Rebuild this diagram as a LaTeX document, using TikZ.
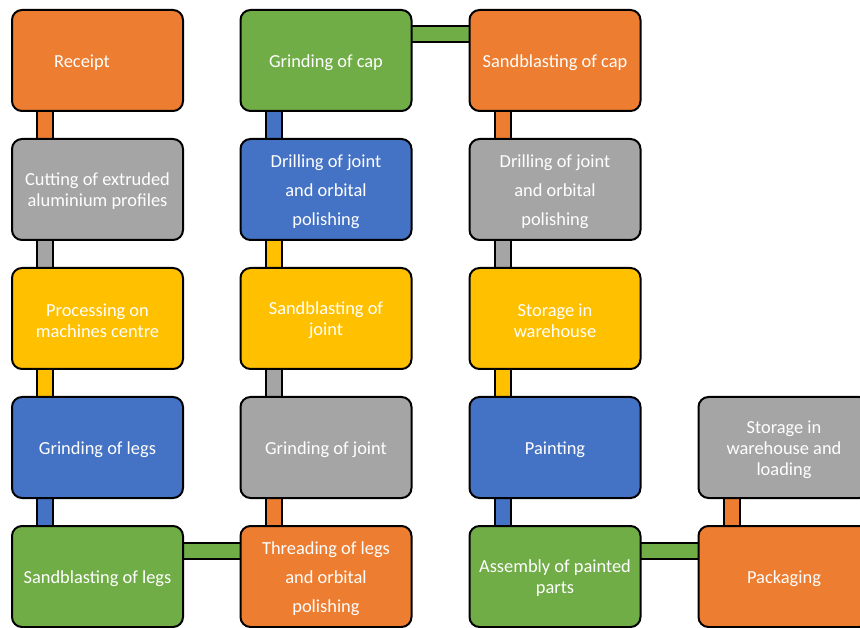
\documentclass[tikz,border=0pt]{standalone}
\usepackage{fontspec}
\setmainfont{Carlito}
\usetikzlibrary{backgrounds}
\definecolor{cOr}{HTML}{ED7D31}
\definecolor{cGr}{HTML}{70AD47}
\definecolor{cGy}{HTML}{A5A5A5}
\definecolor{cBl}{HTML}{4472C4}
\definecolor{cYe}{HTML}{FFC000}
\tikzset{
  box/.style={draw=black, line width=2pt, rounded corners=10pt, minimum width=171pt, minimum height=101pt,
    inner sep=0pt},
  txt/.style={inner sep=0pt, text=white, align=center, font=\fontsize{18.4}{21}\selectfont},
  link/.style={draw=black, line width=2pt, double distance=14pt, double=#1, shorten <=-4pt, shorten >=-4pt},
}
\begin{document}
\begin{tikzpicture}[x=1pt,y=-1pt]
\useasboundingbox (0,0) rectangle (860,628);
% column 1
\node[box, fill=cOr] (receipt) at (97.5,60.5) {};
\node[box, fill=cGy] (cutting) at (97.5,189.5) {};
\node[box, fill=cYe] (processing) at (97.5,318.5) {};
\node[box, fill=cBl] (grindlegs) at (97.5,447.5) {};
\node[box, fill=cGr] (sandlegs) at (97.5,576.5) {};
% column 2
\node[box, fill=cGr] (grindcap) at (326,60.5) {};
\node[box, fill=cBl] (drill1) at (326,189.5) {};
\node[box, fill=cYe] (sandjoint) at (326,318.5) {};
\node[box, fill=cGy] (grindjoint) at (326,447.5) {};
\node[box, fill=cOr] (threading) at (326,576.5) {};
% column 3
\node[box, fill=cOr] (sandcap) at (555,60.5) {};
\node[box, fill=cGy] (drill2) at (555,189.5) {};
\node[box, fill=cYe] (storage1) at (555,318.5) {};
\node[box, fill=cBl] (painting) at (555,447.5) {};
\node[box, fill=cGr] (assembly) at (555,576.5) {};
% column 4
\node[box, fill=cGy] (storage2) at (784,447.5) {};
\node[box, fill=cOr] (packaging) at (784,576.5) {};
% texts
\node[txt] (t-receipt) at ([xshift=-15.5pt,yshift=-2pt]receipt.center) {Receipt};
\node[txt] (t-cutting) at ([yshift=-2pt]cutting.center) {Cutting of extruded\\aluminium profiles};
\node[txt] (t-processing) at ([yshift=-2pt]processing.center) {Processing on\\machines centre};
\node[txt] (t-grindlegs) at ([yshift=-2pt]grindlegs.center) {Grinding of legs};
\node[txt] (t-sandlegs) at ([yshift=-2pt]sandlegs.center) {Sandblasting of legs};
\node[txt] (t-grindcap) at ([yshift=-2pt]grindcap.center) {Grinding of cap};
\node[txt] (t-drill1) at ([yshift=-2pt]drill1.center) {Drilling of joint\\[8pt]and orbital\\[8pt]polishing};
\node[txt] (t-sandjoint) at ([yshift=-2pt]sandjoint.center) {Sandblasting of\\joint};
\node[txt] (t-grindjoint) at ([yshift=-2pt]grindjoint.center) {Grinding of joint};
\node[txt] (t-threading) at ([yshift=-2pt]threading.center) {Threading of legs\\[8pt]and orbital\\[8pt]polishing};
\node[txt] (t-sandcap) at ([yshift=-2pt]sandcap.center) {Sandblasting of cap};
\node[txt] (t-drill2) at ([yshift=-2pt]drill2.center) {Drilling of joint\\[8pt]and orbital\\[8pt]polishing};
\node[txt] (t-storage1) at ([yshift=-2pt]storage1.center) {Storage in\\warehouse};
\node[txt] (t-painting) at ([yshift=-2pt]painting.center) {Painting};
\node[txt] (t-assembly) at ([yshift=-2pt]assembly.center) {Assembly of painted\\parts};
\node[txt] (t-storage2) at ([yshift=-2pt]storage2.center) {Storage in\\warehouse and\\loading};
\node[txt] (t-packaging) at ([yshift=-2pt]packaging.center) {Packaging};
% connectors
\begin{pgfonlayer}{background}
\draw[link=cOr] ([xshift=34pt]receipt.south west) -- ([xshift=34pt]cutting.north west);
\draw[link=cGy] ([xshift=34pt]cutting.south west) -- ([xshift=34pt]processing.north west);
\draw[link=cYe] ([xshift=34pt]processing.south west) -- ([xshift=34pt]grindlegs.north west);
\draw[link=cBl] ([xshift=34pt]grindlegs.south west) -- ([xshift=34pt]sandlegs.north west);
\draw[link=cGr] ([yshift=-25.5pt]sandlegs.north east) -- ([yshift=-25.5pt]threading.north west);
\draw[link=cOr] ([xshift=34pt]threading.north west) -- ([xshift=34pt]grindjoint.south west);
\draw[link=cGy] ([xshift=34pt]grindjoint.north west) -- ([xshift=34pt]sandjoint.south west);
\draw[link=cYe] ([xshift=34pt]sandjoint.north west) -- ([xshift=34pt]drill1.south west);
\draw[link=cBl] ([xshift=34pt]drill1.north west) -- ([xshift=34pt]grindcap.south west);
\draw[link=cGr] ([yshift=-25.5pt]grindcap.north east) -- ([yshift=-25.5pt]sandcap.north west);
\draw[link=cOr] ([xshift=34pt]sandcap.south west) -- ([xshift=34pt]drill2.north west);
\draw[link=cGy] ([xshift=34pt]drill2.south west) -- ([xshift=34pt]storage1.north west);
\draw[link=cYe] ([xshift=34pt]storage1.south west) -- ([xshift=34pt]painting.north west);
\draw[link=cBl] ([xshift=34pt]painting.south west) -- ([xshift=34pt]assembly.north west);
\draw[link=cGr] ([yshift=-25.5pt]assembly.north east) -- ([yshift=-25.5pt]packaging.north west);
\draw[link=cOr] ([xshift=34pt]packaging.north west) -- ([xshift=34pt]storage2.south west);
\end{pgfonlayer}
\end{tikzpicture}
\end{document}
